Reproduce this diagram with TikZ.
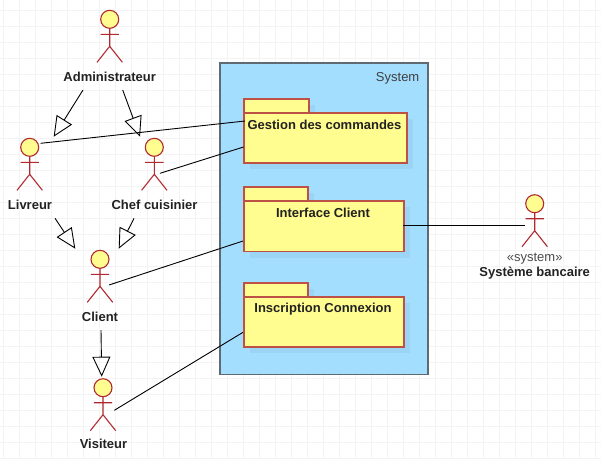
\documentclass[tikz,border=0pt]{standalone}
\usepackage{fontspec}
\setmainfont{Liberation Sans}
\usetikzlibrary{arrows.meta}
\definecolor{gridc}{HTML}{F3F3F3}
\definecolor{sysfill}{HTML}{A3DEFF}
\definecolor{sysline}{HTML}{5F6B73}
\definecolor{shadowc}{HTML}{9BD4F5}
\definecolor{pkgfill}{HTML}{FFFC90}
\definecolor{pkgline}{HTML}{BE5145}
\definecolor{actline}{HTML}{B02A30}
\definecolor{txt}{HTML}{222222}
\tikzset{
  x=1pt,y=-1pt,
  assoc/.style={draw=black,line width=0.9pt},
  inherit/.style={draw=black,line width=0.9pt,-{Triangle[open,length=20pt,width=18pt,line width=0.9pt]}},
  lbl/.style={font=\fontsize{13}{15}\selectfont\bfseries,text=txt,inner sep=0pt},
  stereo/.style={font=\fontsize{13}{15}\selectfont,text=black!70,inner sep=0pt},
  pkgbody/.style={draw=pkgline,fill=pkgfill,line width=1.8pt,rectangle,inner sep=0pt,anchor=north west},
  pkgshadow/.style={fill=shadowc,draw=none},
  acthead/.style={circle,draw=actline,fill=pkgfill,line width=1.1pt,minimum size=18pt,inner sep=0pt},
  actbody/.style={draw=actline,line width=1.1pt},
  pics/actor/.style={code={
    \draw[actbody] (0,9) -- (0,27) (-9.2,15) -- (9.2,15) (-12.7,43) -- (0,27) -- (12.7,43);
    \node[acthead] (#1) at (0,0) {};
  }}
}
\newcommand{\pkgbox}[7]{% name, x1, xtab, x2, ytab, ybody, ybottom
  \fill[pkgshadow] (#2+7,#5+7) rectangle (#3+7,#6+7);
  \fill[pkgshadow] (#2+7,#6+7) rectangle (#4+7,#7+7);
  \pgfmathsetlengthmacro{\tw}{#3-#2}\pgfmathsetlengthmacro{\th}{#6-#5}
  \node[pkgbody,minimum width=\tw,minimum height=\th] (#1tab) at (#2,#5) {};
  \pgfmathsetlengthmacro{\pw}{#4-#2}\pgfmathsetlengthmacro{\ph}{#7-#6}
  \node[pkgbody,minimum width=\pw,minimum height=\ph] (#1) at (#2,#6) {};
}
\begin{document}
\begin{tikzpicture}
\useasboundingbox (0,0) rectangle (601,459);
\fill[white] (0,0) rectangle (601,459);
\foreach \i in {0,...,37} \draw[gridc,line width=0.8pt] (3.4+16*\i,0) -- (3.4+16*\i,459);
\foreach \i in {0,...,28} \draw[gridc,line width=0.8pt] (0,10.7+16*\i) -- (601,10.7+16*\i);

% system frame
\node[draw=sysline,fill=sysfill,line width=1.8pt,rectangle,inner sep=0pt,anchor=north west,minimum width=208pt,minimum height=311.5pt] (sys) at (219,62) {};
\node[anchor=east,font=\fontsize{13}{15}\selectfont,text=black!75,inner sep=0pt] (systitle) at (419.5,78.5) {System};

% packages
\pkgbox{gest}{243}{308}{406}{97.8}{112}{162}
\pkgbox{inter}{243}{307}{403}{185.8}{200}{250.5}
\pkgbox{insc}{243}{307}{403}{281.8}{296}{345.8}
\node[lbl] (gestl) at (324.5,125) {Gestion des commandes};
\node[lbl] (interl) at (323,213) {Interface Client};
\node[lbl] (inscl) at (323,309) {Inscription Connexion};

% actors
\pic at (109.7,19.3) {actor=adm};
\pic at (29.7,147.3) {actor=liv};
\pic at (154.3,147.3) {actor=chef};
\pic at (100,259.3) {actor=cli};
\pic at (103,387.7) {actor=vis};
\pic at (534.7,203.7) {actor=bank};
\node[lbl] (adml) at (109.7,76.5) {Administrateur};
\node[lbl] (livl) at (30,204.5) {Livreur};
\node[lbl] (chefl) at (154.5,204.5) {Chef cuisinier};
\node[lbl] (clil) at (100,316.5) {Client};
\node[lbl] (visl) at (103.5,444) {Visiteur};
\node[stereo] (bankst) at (534.7,258.8) {«system»};
\node[lbl] (bankl) at (534.7,273.5) {Système bancaire};

% connector ends
\coordinate (a1) at (83,90);    \coordinate (a1t) at (53.7,136.7);
\coordinate (a2) at (122.7,90); \coordinate (a2t) at (140,136.7);
\coordinate (b1) at (55,218.3); \coordinate (b1t) at (75.3,248.7);
\coordinate (b2) at (134,218.3);\coordinate (b2t) at (118.7,248.7);
\coordinate (c1) at (101,330);  \coordinate (c1t) at (101.7,376.7);
\coordinate (d1) at (40.7,143.3); \coordinate (d1t) at (245,121);
\coordinate (d2) at (160,173.3);  \coordinate (d2t) at (243.5,147);
\coordinate (d3) at (109,285);    \coordinate (d3t) at (243,241);
\coordinate (d4) at (114.3,410.3);\coordinate (d4t) at (243,332.3);
\coordinate (d5) at (403,225.3);  \coordinate (d5t) at (525,225.3);

\draw[inherit] (a1) -- (a1t);
\draw[inherit] (a2) -- (a2t);
\draw[inherit] (b1) -- (b1t);
\draw[inherit] (b2) -- (b2t);
\draw[inherit] (c1) -- (c1t);
\draw[assoc] (d1) -- (d1t);
\draw[assoc] (d2) -- (d2t);
\draw[assoc] (d3) -- (d3t);
\draw[assoc] (d4) -- (d4t);
\draw[assoc] (d5) -- (d5t);
\end{tikzpicture}
\end{document}
